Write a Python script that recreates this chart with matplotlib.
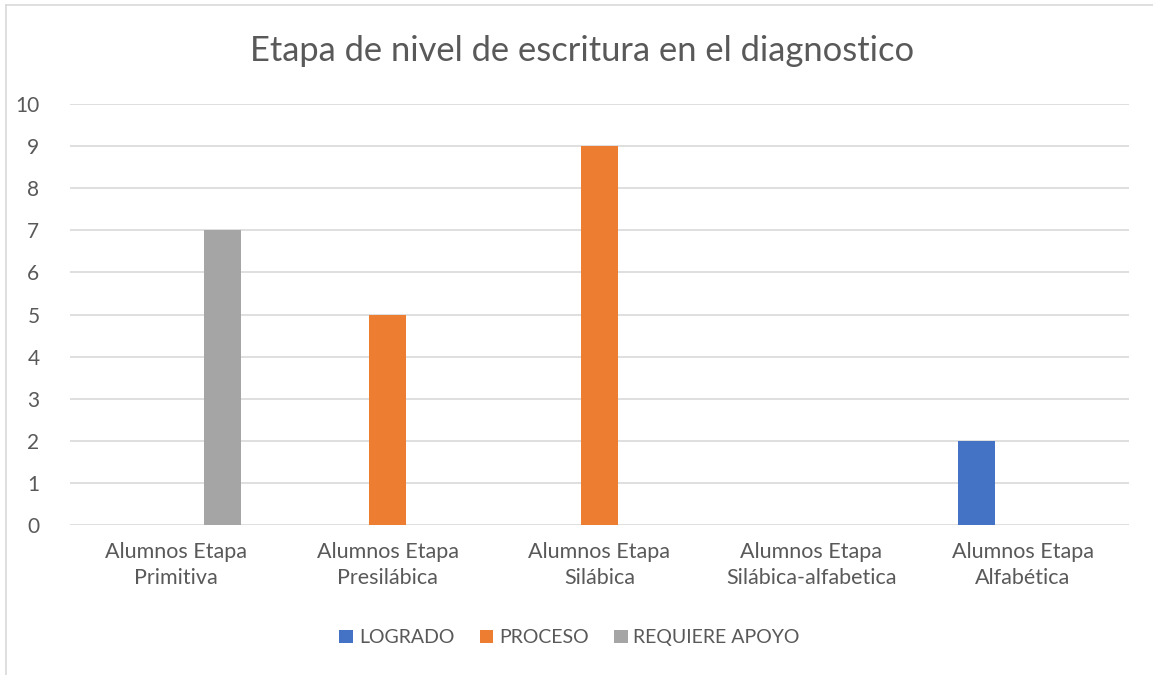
import numpy as np
import matplotlib.pyplot as plt

categories = ["Alumnos Etapa\nPrimitiva", "Alumnos Etapa\nPresilábica", "Alumnos Etapa\nSilábica",
              "Alumnos Etapa\nSilábica-alfabetica", "Alumnos Etapa\nAlfabética"]
series_names = ["LOGRADO", "PROCESO", "REQUIERE APOYO"]
logrado = [0, 0, 0, 0, 2]
proceso = [0, 5, 9, 0, 0]
requiere = [7, 0, 0, 0, 0]
yticks = list(range(0, 11))

colors = ["#4472C4", "#ED7D31", "#A5A5A5"]
text_color = "#595959"

plt.rcParams['font.family'] = ['Lato', 'DejaVu Sans']

fig = plt.figure(figsize=(11.53, 6.75), dpi=100)
ax = fig.add_axes([0.0607, 0.2222, 0.9183, 0.6237])

x = np.arange(len(categories))
width = 0.174
offset = 0.22
for i, (vals, name) in enumerate(zip([logrado, proceso, requiere], series_names)):
    ax.bar(x + (i - 1) * offset, vals, width, color=colors[i], label=name, zorder=3)

ax.set_xlim(-0.5, len(categories) - 0.5)
ax.set_ylim(0, 10)
ax.set_yticks(yticks)
ax.set_xticks(x)
ax.set_xticklabels(categories, fontsize=15.5, color=text_color, linespacing=1.4)
ax.tick_params(axis='y', labelsize=15, labelcolor=text_color, length=0, pad=22)
ax.tick_params(axis='x', length=0, pad=12)
ax.grid(axis='y', color="#D9D9D9", linewidth=1.2, zorder=0)
for s in ax.spines.values():
    s.set_visible(False)

fig.text(0.505, 0.925, "Etapa de nivel de escritura en el diagnostico", ha='center', va='center',
         fontsize=24.8, color=text_color)

leg = fig.legend(loc='center', bbox_to_anchor=(0.494, 0.055), ncol=3, frameon=False,
                 fontsize=14, handlelength=0.7, handleheight=0.7, handletextpad=0.3,
                 columnspacing=1.3)
for t in leg.get_texts():
    t.set_color(text_color)

# outer chart frame (only left and top edges visible in crop)
fig.add_artist(plt.Line2D([0.0055, 0.0055], [0, 0.993], color="#D9D9D9", linewidth=1.2,
                          transform=fig.transFigure))
fig.add_artist(plt.Line2D([0.0055, 1], [0.993, 0.993], color="#D9D9D9", linewidth=1.2,
                          transform=fig.transFigure))

fig.savefig("out.png", dpi=100)
